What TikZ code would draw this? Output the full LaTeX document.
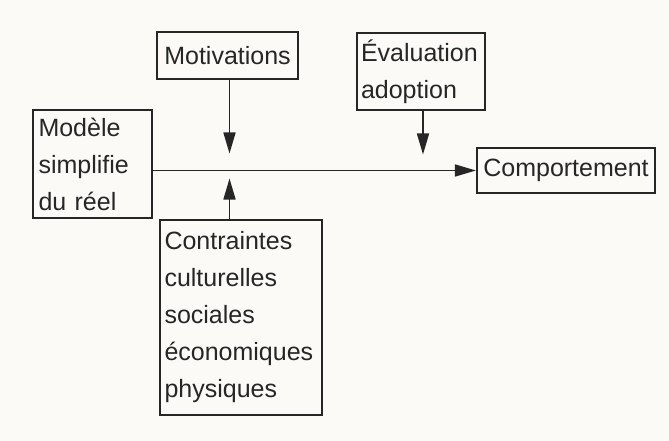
\documentclass[tikz,border=0pt]{standalone}
\usepackage{fontspec}
\setmainfont{Liberation Sans}
\usetikzlibrary{arrows.meta, positioning}
\definecolor{ink}{HTML}{262626}
\definecolor{paper}{HTML}{FBFAF7}

\begin{document}
\begin{tikzpicture}[x=1pt, y=-1pt, font=\fontsize{25}{37}\selectfont, text=ink,
      box/.style={draw=ink, line width=2.2pt, inner sep=3pt, align=left},
      flow/.style={draw=ink, line width=1.6pt, -{Triangle[length=21pt, width=12pt]}}]
    \fill[paper] (0,0) rectangle (669,441);
    \useasboundingbox (0,0) rectangle (669,441);
    \node[box, minimum width=119pt, minimum height=108pt, text width=108pt] (mod) at (92.5,164) {Modèle\\ simplifie\\ du réel};
    \node[box, minimum width=141pt, minimum height=47pt, align=center] (mot) at (227.5,55.5) {Motivations};
    \node[box, minimum width=128pt, minimum height=77pt, text width=120pt] (eva) at (421,71.5) {Évaluation\\ adoption};
    \node[box, minimum width=178pt, minimum height=45pt, align=center] (comp) at (566,170.5) {Comportement};
    \node[box, minimum width=162pt, minimum height=195pt, text width=153pt] (con) at (241,317.5)
      {Contraintes\\ culturelles\\ sociales\\ économiques\\ physiques};
    % flèches
    \draw[flow] (mod.east |- comp.west) -- (comp.west);
    \draw[flow, shorten >=17pt] ([xshift=2pt]mot.south) -- ([xshift=2pt]mot.south |- comp.west);
    \draw[flow, shorten >=16pt] ([xshift=2pt]eva.south) -- ([xshift=2pt]eva.south |- comp.west);
    \draw[flow, shorten >=8pt] ([xshift=2pt]mot.south |- con.north) -- ([xshift=2pt]mot.south |- comp.west);
  \end{tikzpicture}
\end{document}
